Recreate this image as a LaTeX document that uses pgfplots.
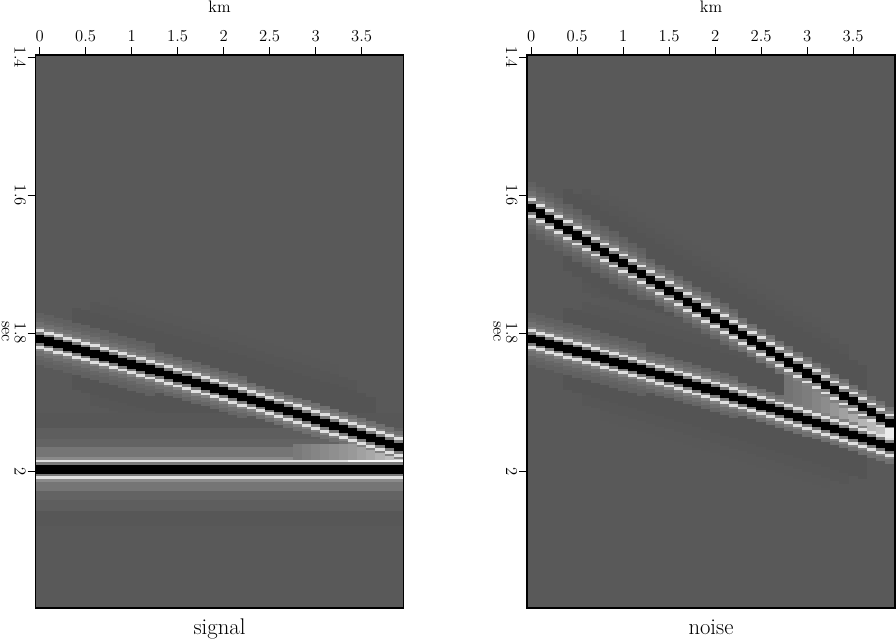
\documentclass[border=0pt]{standalone}
\usepackage{pgfplots}
\usepackage{pgfplotstable}
\pgfplotsset{compat=1.18}

% trace (km), event times (s): s = dipping event, f = flat event, n = steep event
\pgfplotstableread{
x   s      f      n
0.0 1.8083 1.9971 1.6184
0.1 1.8119 1.9971 1.6264
0.2 1.8154 1.9971 1.6344
0.3 1.8191 1.9971 1.6424
0.4 1.8227 1.9971 1.6504
0.5 1.8263 1.9971 1.6584
0.6 1.8300 1.9971 1.6664
0.7 1.8337 1.9971 1.6744
0.8 1.8375 1.9971 1.6824
0.9 1.8412 1.9971 1.6904
1.0 1.8450 1.9971 1.6984
1.1 1.8488 1.9971 1.7064
1.2 1.8526 1.9971 1.7144
1.3 1.8565 1.9971 1.7224
1.4 1.8603 1.9971 1.7304
1.5 1.8642 1.9971 1.7384
1.6 1.8681 1.9971 1.7464
1.7 1.8721 1.9971 1.7544
1.8 1.8760 1.9971 1.7624
1.9 1.8800 1.9971 1.7704
2.0 1.8840 1.9971 1.7784
2.1 1.8881 1.9971 1.7864
2.2 1.8921 1.9971 1.7944
2.3 1.8962 1.9971 1.8024
2.4 1.9003 1.9971 1.8104
2.5 1.9045 1.9971 1.8184
2.6 1.9086 1.9971 1.8264
2.7 1.9128 1.9971 1.8344
2.8 1.9170 1.9971 1.8424
2.9 1.9213 1.9971 1.8504
3.0 1.9255 1.9971 1.8584
3.1 1.9298 1.9971 1.8664
3.2 1.9341 1.9971 1.8744
3.3 1.9384 1.9971 1.8824
3.4 1.9428 1.9971 1.8904
3.5 1.9471 1.9971 1.8984
3.6 1.9516 1.9971 1.9064
3.7 1.9560 1.9971 1.9144
3.8 1.9604 1.9971 1.9224
3.9 1.9648 1.9971 1.9304
}\data

\pgfplotsset{
  seis/.style={
    scale only axis, width=276pt, height=414.75pt,
    anchor=south west,
    xmin=-0.045, xmax=3.955, ymin=1.3967, ymax=2.198, y dir=reverse,
    axis on top, axis line style={line width=0.8pt},
    axis background/.style={fill=black!65},
    xtick={0,0.5,...,3.5}, ytick={1.4,1.6,1.8,2},
    xtick pos=top, xticklabel pos=top, ytick pos=left,
    tick align=outside, major tick length=6pt,
    tick style={line width=0.7pt, black},
    /pgf/number format/assume math mode=true,
    tick label style={font=\fontsize{12.5}{13}\selectfont},
    xticklabel style={yshift=0.5pt},
    yticklabel style={xshift=-5.5pt, rotate=-90, anchor=center},
    every axis x label/.style={at={(axis description cs:0.5,1)}, anchor=center, yshift=36.5pt, font=\fontsize{12.5}{13}\selectfont},
    every axis y label/.style={at={(axis description cs:0,0.5)}, anchor=center, xshift=-22.5pt, rotate=-90, font=\fontsize{12.5}{13}\selectfont},
    every axis title/.style={at={(axis description cs:0.5,0)}, anchor=base, yshift=-19.5pt, font=\fontsize{17}{17}\selectfont},
    xlabel={km}, ylabel={sec},
  },
  band/.style={forget plot, draw=none, no marks},
}

% one layer of an event: column, half height (s), percent black, trace range
\newcommand{\lay}[5]{%
  \addplot[band, restrict x to domain=#4:#5, error bars/.cd, y dir=both, y fixed=#2, error mark=none,
    error bar style={line width=7pt, color=black!#3}] table[x=x, y=#1] {\data};}
% loose blocks where events interfere: percent black, coordinates with half heights
\newcommand{\blk}[2]{%
  \addplot[band, error bars/.cd, y dir=both, y explicit, error mark=none,
    error bar style={line width=7pt, color=black!#1}] coordinates {#2};}
% dark halo on both sides of an event, fading towards the ends
\newcommand{\halo}[1]{%
  \lay{#1}{0.090}{65.6}{0.8}{3.2}
  \lay{#1}{0.075}{66.2}{0.6}{3.4}
  \lay{#1}{0.060}{67}{0.4}{3.6}}

\begin{document}
\begin{tikzpicture}
\useasboundingbox (0,0) rectangle (672pt,479.25pt);

\begin{axis}[seis, at={(26.625pt,23.25pt)}, title={signal}]
  \halo{s}
  \lay{f}{0.082}{66}{0}{4}
  \lay{f}{0.060}{63}{0}{4}
  \lay{f}{0.044}{61}{0}{4}
  \lay{s}{0.038}{62}{0}{1.2}
  \lay{s}{0.030}{60}{0}{2.2}
  \lay{s}{0.024}{56}{0}{4}
  \lay{f}{0.032}{54}{0}{4}
  \lay{f}{0.018}{46}{0}{4}
  \blk{52}{(2.8,1.9718)+-(0,0.0113)}
  \blk{50}{(2.9,1.9718)+-(0,0.0113)}
  \blk{48}{(3.0,1.9718)+-(0,0.0113)}
  \blk{46}{(3.1,1.9718)+-(0,0.0113)}
  \blk{44}{(3.2,1.9718)+-(0,0.0113)}
  \blk{42}{(3.3,1.9718)+-(0,0.0113)}
  \blk{40}{(3.4,1.9718)+-(0,0.0113)}
  \blk{37}{(3.5,1.9718)+-(0,0.0113)}
  \blk{34}{(3.6,1.9718)+-(0,0.0113)}
  \blk{30}{(3.7,1.9718)+-(0,0.0113)}
  \blk{26}{(3.8,1.9718)+-(0,0.0113)}
  \blk{20}{(3.9,1.9718)+-(0,0.0113)}
  \lay{s}{0.018}{49}{0}{4}
  \lay{s}{0.014}{12}{0}{4}
  \lay{f}{0.014}{12}{0}{4}
  \lay{f}{0.010}{52}{0}{4}
  \lay{s}{0.010}{52}{0}{4}
  \lay{s}{0.006}{100}{0}{4}
  \lay{f}{0.006}{100}{0}{4}
  \blk{2}{(3.4,1.9851)+-(0,0.002) (3.5,1.9851)+-(0,0.002) (3.6,1.9851)+-(0,0.002) (3.7,1.9851)+-(0,0.002) (3.8,1.9851)+-(0,0.002) (3.9,1.9851)+-(0,0.002)}
\end{axis}

\begin{axis}[seis, at={(395.25pt,23.25pt)}, title={noise}]
  \halo{n}
  \halo{s}
  \lay{n}{0.038}{62}{0}{1.2}
  \lay{s}{0.038}{62}{0}{1.2}
  \lay{n}{0.030}{60}{0}{2.2}
  \lay{s}{0.030}{60}{0}{2.2}
  \lay{n}{0.024}{56}{0}{4}
  \lay{s}{0.024}{56}{0}{4}
  \blk{55}{(2.8,1.8797)+-(0,0.0193)}
  \blk{53}{(2.9,1.8858)+-(0,0.0174)}
  \blk{51}{(3.0,1.8920)+-(0,0.0155)}
  \blk{48}{(3.1,1.8981)+-(0,0.0137)}
  \blk{45}{(3.2,1.9043)+-(0,0.0118)}
  \blk{41}{(3.3,1.9104)+-(0,0.0100)}
  \blk{37}{(3.4,1.9166)+-(0,0.0082)}
  \blk{33}{(3.5,1.9228)+-(0,0.0063)}
  \blk{29}{(3.6,1.9290)+-(0,0.0046)}
  \blk{26}{(3.7,1.9352)+-(0,0.0028)}
  \lay{n}{0.018}{49}{0}{4}
  \lay{s}{0.018}{49}{0}{4}
  \blk{28}{(3.7,1.9352)+-(0,0.0060) (3.8,1.9414)+-(0,0.0120)}
  \lay{n}{0.014}{12}{0}{4}
  \lay{s}{0.014}{12}{0}{4}
  \lay{n}{0.010}{52}{0}{4}
  \lay{s}{0.010}{52}{0}{4}
  \blk{25}{(3.8,1.9414)+-(0,0.0040)}
  \lay{n}{0.006}{100}{0}{4}
  \lay{s}{0.006}{100}{0}{4}
  \blk{8}{(3.9,1.9440)+-(0,0.0070)}
\end{axis}
\end{tikzpicture}
\end{document}
